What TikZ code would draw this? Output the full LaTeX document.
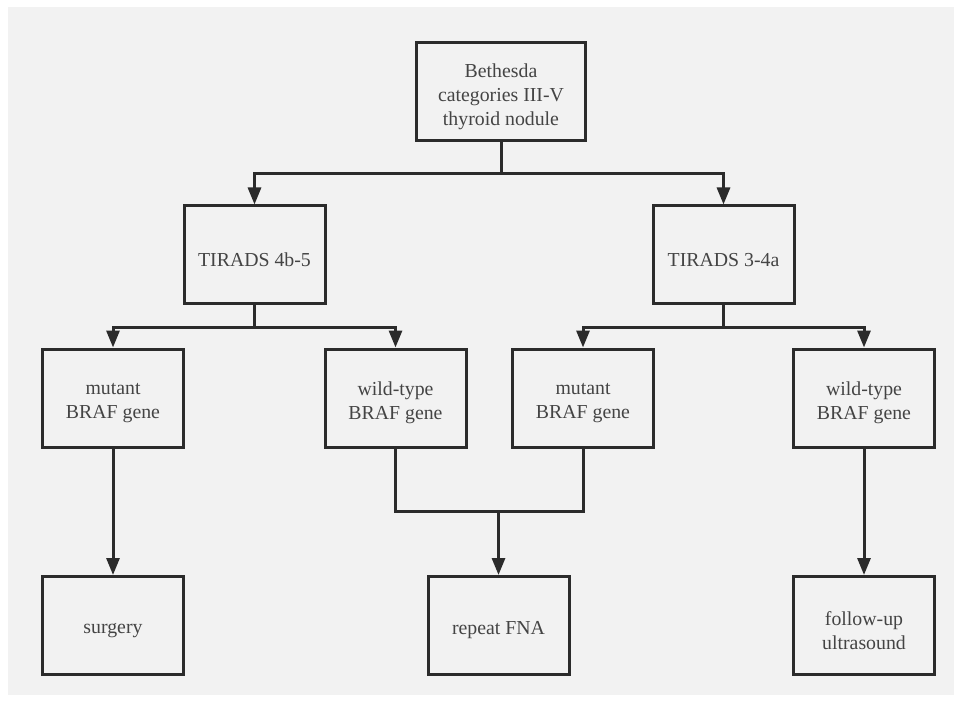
\documentclass[tikz,border=0pt]{standalone}
\usepackage{fontspec}
\setmainfont{Liberation Serif}
\usetikzlibrary{arrows.meta}
\definecolor{bgc}{HTML}{F2F2F2}
\definecolor{linec}{HTML}{2B2B2B}
\definecolor{txtc}{HTML}{444444}
\begin{document}
\begin{tikzpicture}[x=1pt,y=-1pt,
  lbl/.style={align=center, inner sep=0pt, text=txtc, font=\fontsize{19.8}{23.8}\selectfont, yshift=-5pt},
  boxn/.style={draw=linec, line width=3pt, fill=bgc, minimum width=141pt, minimum height=98pt,
    inner sep=0pt, label={[lbl]center:{#1}}},
  conn/.style={draw=linec, line width=3pt},
  arr/.style={conn, -{Triangle[length=17pt,width=13pt]}}]
\useasboundingbox (0,0) rectangle (961,703);
\fill[white] (0,0) rectangle (961,703);
\fill[bgc] (8,7) rectangle (954,695);
\node[boxn={Bethesda\\categories III-V\\thyroid nodule}, minimum width=169pt] (top) at (501,92) {};
\node[boxn={TIRADS 4b-5}] (t1) at (254.5,255) {};
\node[boxn={TIRADS 3-4a}] (t2) at (723.5,255) {};
\node[boxn={mutant\\BRAF gene}] (m1) at (113,398) {};
\node[boxn={wild-type\\BRAF gene}] (w1) at (395.5,398) {};
\node[boxn={mutant\\BRAF gene}] (m2) at (583,398) {};
\node[boxn={wild-type\\BRAF gene}] (w2) at (864,398) {};
\node[boxn={surgery}] (s) at (113,625.5) {};
\node[boxn={repeat FNA}] (r) at (498.5,625.5) {};
\node[boxn={follow-up\\ultrasound}] (f) at (864,625.5) {};
% top split
\coordinate (j0) at (501,174);
\draw[conn] (top.south) -- (j0);
\draw[arr] (j0) -| (t1.north);
\draw[arr] (j0) -| (t2.north);
% left split
\coordinate (j1) at (254.5,327);
\draw[conn] (t1.south) -- (j1);
\draw[arr] (j1) -| (m1.north);
\draw[arr] (j1) -| (w1.north);
% right split
\coordinate (j2) at (723.5,327);
\draw[conn] (t2.south) -- (j2);
\draw[arr] (j2) -| (m2.north);
\draw[arr] (j2) -| (w2.north);
% verticals
\draw[arr] (m1.south) -- (s.north);
\draw[arr] (w2.south) -- (f.north);
% merge
\coordinate (jm) at (498.5,511);
\draw[conn] (w1.south) |- (jm);
\draw[conn] (m2.south) |- (jm);
\draw[arr] (jm) -- (r.north);
\end{tikzpicture}
\end{document}
